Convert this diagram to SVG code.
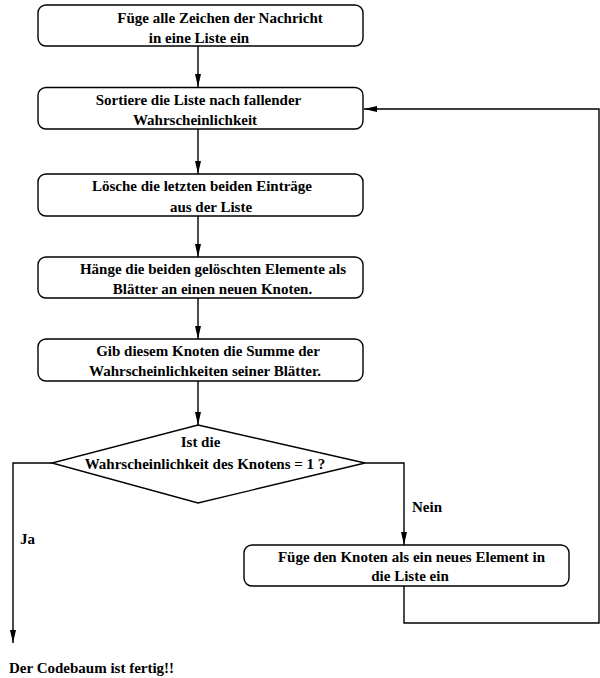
<svg xmlns="http://www.w3.org/2000/svg" width="600" height="678" viewBox="0 0 600 678">
  <style>
    .box { fill: #fff; stroke: #000; stroke-width: 1.4; }
    .lbl { font-family: "Liberation Serif", "Times New Roman", serif; font-weight: bold; font-size: 15px; fill: #000; text-anchor: middle; }
    .lbl-s { font-family: "Liberation Serif", "Times New Roman", serif; font-weight: bold; font-size: 15px; fill: #000; }
    .edge { fill: none; stroke: #000; stroke-width: 1.4; }
  </style>
  <defs>
    <marker id="arrow" markerUnits="userSpaceOnUse" markerWidth="13" markerHeight="7" refX="13" refY="3.5" orient="auto">
      <path d="M0,0.5 L13,3.5 L0,6.5 z" fill="#000"/>
    </marker>
  </defs>

  <g id="connectors">
    <line class="edge" x1="198" y1="46" x2="198" y2="87" marker-end="url(#arrow)"/>
    <line class="edge" x1="198" y1="129" x2="198" y2="174" marker-end="url(#arrow)"/>
    <line class="edge" x1="198" y1="216" x2="198" y2="257" marker-end="url(#arrow)"/>
    <line class="edge" x1="198" y1="298" x2="198" y2="339" marker-end="url(#arrow)"/>
    <line class="edge" x1="198" y1="381" x2="198" y2="425" marker-end="url(#arrow)"/>
    <!-- Ja branch -->
    <polyline class="edge" points="52,463 13,463 13,643" marker-end="url(#arrow)"/>
    <!-- Nein branch -->
    <polyline class="edge" points="365,463 404,463 404,545" marker-end="url(#arrow)"/>
    <!-- loop back to sorting -->
    <polyline class="edge" points="404,586 404,623 599,623 599,109 364,109" marker-end="url(#arrow)"/>
  </g>

  <g id="n1">
    <rect class="box" x="38" y="5" width="325" height="41" rx="8"/>
    <text class="lbl" x="220" y="23">Füge alle Zeichen der Nachricht</text>
    <text class="lbl" x="199" y="42.5">in eine Liste ein</text>
  </g>
  <g id="n2">
    <rect class="box" x="38" y="87.5" width="325" height="41.5" rx="8"/>
    <text class="lbl" x="198.5" y="104.5">Sortiere die Liste nach fallender</text>
    <text class="lbl" x="195" y="124.5">Wahrscheinlichkeit</text>
  </g>
  <g id="n3">
    <rect class="box" x="38" y="174" width="325" height="42" rx="8"/>
    <text class="lbl" x="202" y="191">Lösche die letzten beiden Einträge</text>
    <text class="lbl" x="211" y="211.5">aus der Liste</text>
  </g>
  <g id="n4">
    <rect class="box" x="38" y="257" width="325" height="41" rx="8"/>
    <text class="lbl" x="213" y="273.5">Hänge die beiden gelöschten Elemente als</text>
    <text class="lbl" x="212.5" y="293.5">Blätter an einen neuen Knoten.</text>
  </g>
  <g id="n5">
    <rect class="box" x="38" y="339" width="325" height="42" rx="8"/>
    <text class="lbl" x="208" y="356">Gib diesem Knoten die Summe der</text>
    <text class="lbl" x="205" y="375.5">Wahrscheinlichkeiten seiner Blätter.</text>
  </g>
  <g id="decision">
    <polygon class="box" points="198,425 365,463 198,503 52,463"/>
    <text class="lbl" x="200.5" y="447">Ist die</text>
    <text class="lbl" x="205" y="469">Wahrscheinlichkeit des Knotens = 1 ?</text>
  </g>
  <g id="n6">
    <rect class="box" x="244" y="545" width="325" height="41" rx="8"/>
    <text class="lbl" x="411.5" y="562">Füge den Knoten als ein neues Element in</text>
    <text class="lbl" x="410" y="580.5">die Liste ein</text>
  </g>
  <g id="labels">
    <text class="lbl-s" x="412" y="512">Nein</text>
    <text class="lbl-s" x="20" y="544">Ja</text>
  </g>
  <g id="end">
    <text class="lbl-s" x="9" y="673">Der Codebaum ist fertig!!</text>
  </g>
</svg>
